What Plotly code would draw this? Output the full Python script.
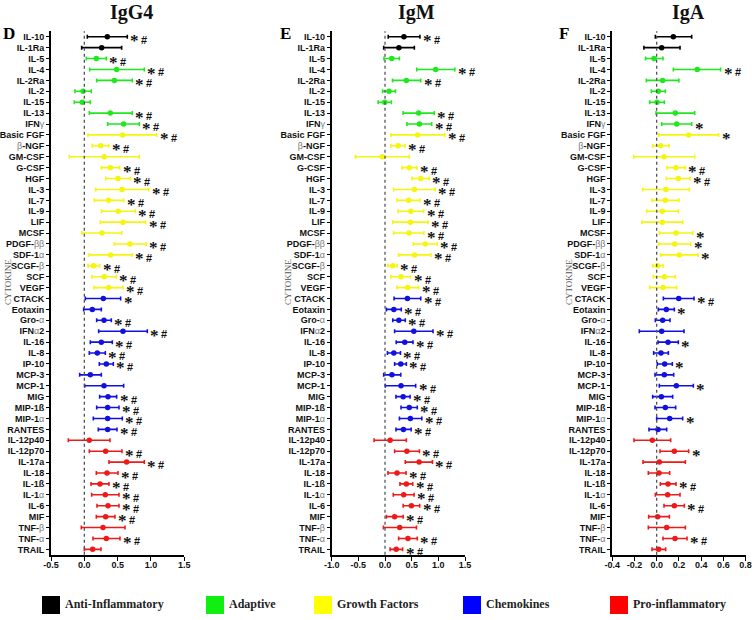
import plotly.graph_objects as go

W, H = 755, 620

cytokines = ["IL-10", "IL-1Ra", "IL-5", "IL-4", "IL-2Ra", "IL-2", "IL-15", "IL-13", "IFNγ",
             "Basic FGF", "β-NGF", "GM-CSF", "G-CSF", "HGF", "IL-3", "IL-7", "IL-9", "LIF",
             "MCSF", "PDGF-ββ", "SDF-1α", "SCGF-β", "SCF", "VEGF",
             "CTACK", "Eotaxin", "Gro-α", "IFNα2", "IL-16", "IL-8", "IP-10", "MCP-3", "MCP-1",
             "MIG", "MIP-1ß", "MIP-1α", "RANTES",
             "IL-12p40", "IL-12p70", "IL-17a", "IL-18", "IL-1ß", "IL-1α", "IL-6", "MIF",
             "TNF-β", "TNF-α", "TRAIL"]

group_names = ["Anti-Inflammatory", "Adaptive", "Growth Factors", "Chemokines", "Pro-inflammatory"]
group_colors = ["#000000", "#1fe81f", "#f5f50f", "#1010e0", "#ee1a1a"]
legend_colors = ["#000000", "#11ee11", "#ffff00", "#0000ff", "#ff0000"]
groups = (["Anti-Inflammatory"] * 2 + ["Adaptive"] * 7 + ["Growth Factors"] * 15 +
          ["Chemokines"] * 13 + ["Pro-inflammatory"] * 11)

# ---- IgG4 ----
igg4_mean = [0.345, 0.26, 0.18, 0.485, 0.45, -0.02, -0.03, 0.39, 0.59,
             0.575, 0.245, 0.30, 0.39, 0.505, 0.565, 0.365, 0.51, 0.58,
             0.265, 0.685, 0.395, 0.14, 0.30, 0.365,
             0.285, 0.12, 0.295, 0.58, 0.255, 0.195, 0.33, 0.09, 0.295,
             0.355, 0.35, 0.35, 0.35,
             0.075, 0.32, 0.635, 0.34, 0.235, 0.315, 0.355, 0.32, 0.28, 0.33, 0.125]
igg4_low = [0.045, -0.04, 0.03, 0.08, 0.185, -0.14, -0.15, 0.075, 0.35,
            0.055, 0.12, -0.225, 0.255, 0.32, 0.17, 0.15, 0.26, 0.24,
            -0.035, 0.45, 0.07, 0.055, 0.115, 0.145,
            0.015, -0.01, 0.185, 0.215, 0.09, 0.075, 0.225, -0.07, 0.005,
            0.23, 0.185, 0.135, 0.21,
            -0.24, 0.075, 0.37, 0.18, 0.10, 0.11, 0.19, 0.18, -0.045, 0.13, 0.0]
igg4_high = [0.645, 0.56, 0.33, 0.90, 0.72, 0.105, 0.09, 0.72, 0.825,
             1.085, 0.365, 0.825, 0.53, 0.69, 0.965, 0.59, 0.765, 0.92,
             0.56, 0.925, 0.72, 0.23, 0.48, 0.58,
             0.545, 0.255, 0.405, 0.945, 0.42, 0.315, 0.435, 0.255, 0.59,
             0.485, 0.52, 0.57, 0.49,
             0.385, 0.565, 0.90, 0.505, 0.37, 0.52, 0.52, 0.46, 0.61, 0.535, 0.25]
igg4_sig = ["*#", "", "*#", "*#", "*#", "", "", "*#", "*#",
            "*#", "*#", "", "*#", "*#", "*#", "*#", "*#", "*#",
            "", "*#", "*#", "*#", "*#", "*#",
            "*", "", "*#", "*#", "*#", "*#", "*#", "", "",
            "*#", "*#", "*#", "*#",
            "", "*#", "*#", "*#", "*#", "*#", "*#", "*#", "", "*#", ""]

# ---- IgM ----
igm_mean = [0.355, 0.26, 0.125, 0.95, 0.40, 0.075, -0.005, 0.63, 0.645,
            0.61, 0.245, -0.05, 0.455, 0.67, 0.55, 0.445, 0.485, 0.475,
            0.45, 0.755, 0.555, 0.145, 0.30, 0.425,
            0.42, 0.165, 0.26, 0.54, 0.37, 0.165, 0.295, 0.13, 0.30,
            0.34, 0.455, 0.475, 0.345,
            0.095, 0.41, 0.64, 0.225, 0.40, 0.35, 0.495, 0.18, 0.275, 0.43, 0.21]
igm_low = [0.06, -0.025, -0.02, 0.595, 0.14, -0.045, -0.13, 0.34, 0.41,
           0.11, 0.11, -0.555, 0.32, 0.505, 0.16, 0.225, 0.245, 0.145,
           0.16, 0.53, 0.255, 0.055, 0.11, 0.225,
           0.17, 0.025, 0.145, 0.18, 0.21, 0.045, 0.18, -0.025, 0.005,
           0.205, 0.30, 0.27, 0.205,
           -0.205, 0.18, 0.38, 0.055, 0.28, 0.155, 0.34, 0.025, -0.03, 0.255, 0.095]
igm_high = [0.655, 0.55, 0.27, 1.31, 0.67, 0.195, 0.12, 0.925, 0.875,
            1.12, 0.375, 0.455, 0.595, 0.83, 0.94, 0.655, 0.725, 0.805,
            0.73, 0.98, 0.86, 0.225, 0.48, 0.63,
            0.67, 0.305, 0.38, 0.90, 0.525, 0.29, 0.40, 0.295, 0.575,
            0.47, 0.605, 0.69, 0.49,
            0.40, 0.645, 0.89, 0.395, 0.52, 0.545, 0.65, 0.34, 0.59, 0.605, 0.33]
igm_sig = ["*#", "", "", "*#", "*#", "", "", "*#", "*#",
           "*#", "*#", "", "*#", "*#", "*#", "*#", "*#", "*#",
           "*#", "*#", "*#", "*#", "*#", "*#",
           "*#", "*#", "*#", "*#", "*#", "*#", "*#", "", "*#",
           "*#", "*#", "*#", "*#",
           "", "*#", "*#", "*#", "*#", "*#", "*#", "*#", "", "*#", "*#"]

# ---- IgA ----
iga_mean = [0.15, 0.045, -0.024, 0.365, 0.054, 0.015, 0.003, 0.168, 0.18,
            0.288, 0.036, 0.066, 0.174, 0.195, 0.084, 0.078, 0.051, 0.051,
            0.174, 0.162, 0.204, 0.009, 0.069, 0.057,
            0.198, 0.087, 0.054, 0.045, 0.102, 0.039, 0.072, 0.069, 0.177,
            0.042, 0.078, 0.117, 0.012,
            -0.039, 0.159, 0.024, 0.021, 0.102, 0.099, 0.159, 0.009, 0.09, 0.165, 0.018]
iga_low = [-0.012, -0.115, -0.10, 0.15, -0.093, -0.048, -0.063, -0.006, 0.045,
           0.018, -0.036, -0.207, 0.093, 0.087, -0.126, -0.042, -0.09, -0.132,
           0.024, 0.018, 0.036, -0.036, -0.03, -0.063,
           0.06, 0.015, -0.012, -0.156, 0.012, -0.027, 0.006, -0.015, 0.024,
           -0.036, -0.015, 0.0, -0.069,
           -0.204, 0.03, -0.123, -0.075, 0.033, -0.012, 0.066, -0.072, -0.075, 0.057, -0.042]
iga_high = [0.315, 0.21, 0.057, 0.575, 0.20, 0.078, 0.069, 0.342, 0.315,
            0.558, 0.111, 0.342, 0.258, 0.30, 0.294, 0.20, 0.195, 0.234,
            0.324, 0.306, 0.372, 0.057, 0.168, 0.18,
            0.336, 0.159, 0.12, 0.246, 0.195, 0.105, 0.141, 0.153, 0.33,
            0.144, 0.171, 0.234, 0.09,
            0.126, 0.288, 0.258, 0.117, 0.174, 0.21, 0.249, 0.114, 0.258, 0.273, 0.081]
iga_sig = ["", "", "", "*#", "", "", "", "", "*",
           "*", "", "", "*#", "*#", "", "", "", "",
           "*", "*", "*", "", "", "",
           "*#", "*", "", "", "*", "", "*", "", "*",
           "", "", "*", "",
           "", "*", "", "", "*#", "", "*#", "", "", "*#", ""]

panel_titles = ["IgG4", "IgM", "IgA"]
panel_letters = ["D", "E", "F"]
x_ranges = [[-0.5, 1.5], [-1.0, 1.5], [-0.4, 0.8]]
x_ticks = [[-0.5, 0.0, 0.5, 1.0, 1.5],
           [-1.0, -0.5, 0.0, 0.5, 1.0, 1.5],
           [-0.4, -0.2, 0.0, 0.2, 0.4, 0.6, 0.8]]
axis_title = "CYTOKINE"

panels = [(igg4_mean, igg4_low, igg4_high, igg4_sig),
          (igm_mean, igm_low, igm_high, igm_sig),
          (iga_mean, iga_low, iga_high, iga_sig)]

# layout geometry (pixels)
x_dom_px = [(51.0, 184.3), (331.7, 465.0), (612.2, 745.6)]
y_top_px, y_bot_px = 31.3, 554.8
title_x_px = [131, 416, 688]
letter_x_px = [9, 285, 564]
ylabel_x_px = [8, 288, 569]


def px(x):
    return x / W


def py(y):
    return 1 - y / H


def fmt_label(s):
    for ch in "αβγ":
        s = s.replace(ch, "<span style='color:#7a7a7a;font-weight:normal'>" + ch + "</span>")
    return s


tick_labels = [fmt_label(c) for c in cytokines]

fig = go.Figure()
annotations = []
shapes = []

for p, (mean, low, high, sig) in enumerate(panels):
    xa = "x" if p == 0 else "x%d" % (p + 1)
    ya = "y" if p == 0 else "y%d" % (p + 1)
    for g, gname in enumerate(group_names):
        idx = [i for i, gg in enumerate(groups) if gg == gname]
        fig.add_trace(go.Scatter(
            x=[mean[i] for i in idx],
            y=[cytokines[i] for i in idx],
            mode="markers",
            marker=dict(color=group_colors[g], size=5.5),
            error_x=dict(type="data", symmetric=False,
                         array=[high[i] - mean[i] for i in idx],
                         arrayminus=[mean[i] - low[i] for i in idx],
                         color=group_colors[g], thickness=1.6, width=2),
            xaxis=xa, yaxis=ya, showlegend=False, hoverinfo="skip",
        ))
    for i, s in enumerate(sig):
        if "*" in s:
            annotations.append(dict(x=high[i], y=cytokines[i], xref=xa, yref=ya,
                                    text="*", showarrow=False, xanchor="left",
                                    xshift=1, yshift=-4,
                                    font=dict(family="Liberation Serif", size=17,
                                              color="#111", weight="bold")))
        if "#" in s:
            annotations.append(dict(x=high[i], y=cytokines[i], xref=xa, yref=ya,
                                    text="#", showarrow=False, xanchor="left",
                                    xshift=12, yshift=-3,
                                    font=dict(family="Liberation Sans", size=11,
                                              color="#111", weight="bold")))
    # zero dotted line
    shapes.append(dict(type="line", xref=xa, yref=ya + " domain", x0=0, x1=0, y0=0, y1=1,
                       line=dict(color="#555", width=1.3, dash="dot")))

    axis_common_x = dict(domain=[px(x_dom_px[p][0]), px(x_dom_px[p][1])],
                         range=x_ranges[p], tickvals=x_ticks[p],
                         ticktext=["%.1f" % v for v in x_ticks[p]],
                         showgrid=False, zeroline=False, showline=True,
                         linecolor="black", linewidth=1.6, ticks="outside",
                         ticklen=4, tickwidth=1.3, tickcolor="black",
                         ticklabelstandoff=-3,
                         tickfont=dict(family="Liberation Sans", size=9, color="#111",
                                       weight="bold"),
                         anchor=ya, automargin=False, fixedrange=True)
    axis_common_y = dict(domain=[py(y_bot_px), py(y_top_px)],
                         type="category", categoryorder="array", categoryarray=cytokines,
                         range=[len(cytokines) - 0.5, -0.5],
                         tickvals=cytokines, ticktext=tick_labels,
                         showgrid=False, zeroline=False, showline=True,
                         linecolor="black", linewidth=1.8, ticks="outside",
                         ticklen=3, tickwidth=1.2, tickcolor="black",
                         tickfont=dict(family="Liberation Sans", size=9, color="#111",
                                       weight="bold"),
                         anchor=xa, automargin=False, fixedrange=True)
    kx = "xaxis" if p == 0 else "xaxis%d" % (p + 1)
    ky = "yaxis" if p == 0 else "yaxis%d" % (p + 1)
    fig.update_layout(**{kx: axis_common_x, ky: axis_common_y})

    annotations.append(dict(x=px(title_x_px[p]), y=py(12), xref="paper", yref="paper",
                            text=panel_titles[p], showarrow=False,
                            xanchor="center", yanchor="middle",
                            font=dict(family="Liberation Serif", size=20, color="#111",
                                      weight="bold")))
    annotations.append(dict(x=px(letter_x_px[p]), y=py(34), xref="paper", yref="paper",
                            text=panel_letters[p], showarrow=False,
                            xanchor="center", yanchor="middle",
                            font=dict(family="Liberation Serif", size=17, color="#000",
                                      weight="bold")))
    annotations.append(dict(x=px(ylabel_x_px[p]), y=py(282), xref="paper", yref="paper",
                            text=axis_title, showarrow=False, textangle=-90,
                            xanchor="center", yanchor="middle",
                            font=dict(family="Liberation Serif", size=9, color="#555")))

# legend (drawn in paper coordinates)
legend_box_px = [(42, 60), (206, 224), (314, 332), (463, 481), (610, 628)]
legend_text_px = [63, 227, 335, 484, 631]
for g, gname in enumerate(group_names):
    x0, x1 = legend_box_px[g]
    shapes.append(dict(type="rect", xref="paper", yref="paper",
                       x0=px(x0), x1=px(x1), y0=py(614), y1=py(596),
                       fillcolor=legend_colors[g], line=dict(width=0)))
    annotations.append(dict(x=px(legend_text_px[g]), y=py(604), xref="paper", yref="paper",
                            text=gname, showarrow=False, xanchor="left", yanchor="middle",
                            font=dict(family="Liberation Serif", size=12, color="#222",
                                      weight="bold")))

fig.update_layout(width=W, height=H, margin=dict(l=0, r=0, t=0, b=0),
                  paper_bgcolor="white", plot_bgcolor="white",
                  annotations=annotations, shapes=shapes, showlegend=False)

fig.write_html("out.html", config={"displayModeBar": False},
               post_script="document.body.style.margin='0px';")
